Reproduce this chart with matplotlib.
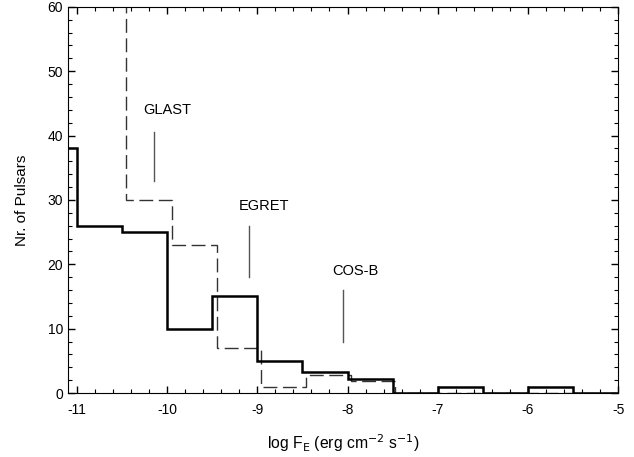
import numpy as np
import matplotlib.pyplot as plt

plt.rcParams['font.family'] = ['Liberation Sans', 'DejaVu Sans']

# solid histogram (bin edges in log F_E, counts)
solid_edges = [-11.1, -11.0, -10.5, -10.0, -9.5, -9.0, -8.5, -8.0, -7.5, -7.0, -6.5, -6.0, -5.5, -5.0]
solid_counts = [38, 26, 25, 10, 15, 5, 3.2, 2.2, 0, 1, 0, 1, 0]

# dashed histogram
dash_edges = [-11.1, -10.45, -9.95, -9.45, -8.96, -8.46, -7.96, -7.47, -5.0]
dash_counts = [100, 30, 23, 7, 1, 2.8, 1.8, 0]

# detector sensitivity markers: name, x, text y, line y range
det_names = ['GLAST', 'EGRET', 'COS-B']
det_x = [-10.15, -9.09, -8.05]
det_text_x = [-10.0, -8.93, -7.91]
det_text_y = [44, 29, 19]
det_line_lo = [33, 18, 8]
det_line_hi = [40.5, 26, 16]

fig = plt.figure(figsize=(6.34, 4.57), dpi=100)
ax = fig.add_axes([0.107, 0.14, 0.868, 0.845])

ax.stairs(dash_counts, dash_edges, color='#333333', lw=1.0,
          linestyle=(0, (10, 4)), baseline=None)
ax.stairs(solid_counts, solid_edges, color='black', lw=1.8, baseline=None)

for name, x, tx, ty, lo, hi in zip(det_names, det_x, det_text_x, det_text_y,
                                   det_line_lo, det_line_hi):
    ax.plot([x, x], [lo, hi], color='#555555', lw=1.0)
    ax.text(tx, ty, name, ha='center', va='center', fontsize=10.5)

ax.set_xlim(-11.1, -5)
ax.set_ylim(0, 60)
ax.set_xticks(np.arange(-11, -4, 1))
ax.set_xticklabels([str(v) for v in range(-11, -4)])
ax.set_xticks(np.arange(-11, -4.9, 0.2), minor=True)
ax.set_yticks(np.arange(0, 61, 10))
ax.set_yticks(np.arange(0, 61, 2), minor=True)
ax.tick_params(which='both', direction='in', top=True, right=True, labelsize=10)
ax.tick_params(which='major', length=5, width=1)
ax.tick_params(which='minor', length=3, width=0.8)
ax.tick_params(axis='x', pad=7)

ax.set_xlabel(r'log F$_\mathrm{E}$ (erg cm$^{-2}$ s$^{-1}$)', fontsize=11.3, labelpad=11)
ax.set_ylabel('Nr. of Pulsars', fontsize=11, labelpad=13)

fig.savefig('out.png', dpi=100)
